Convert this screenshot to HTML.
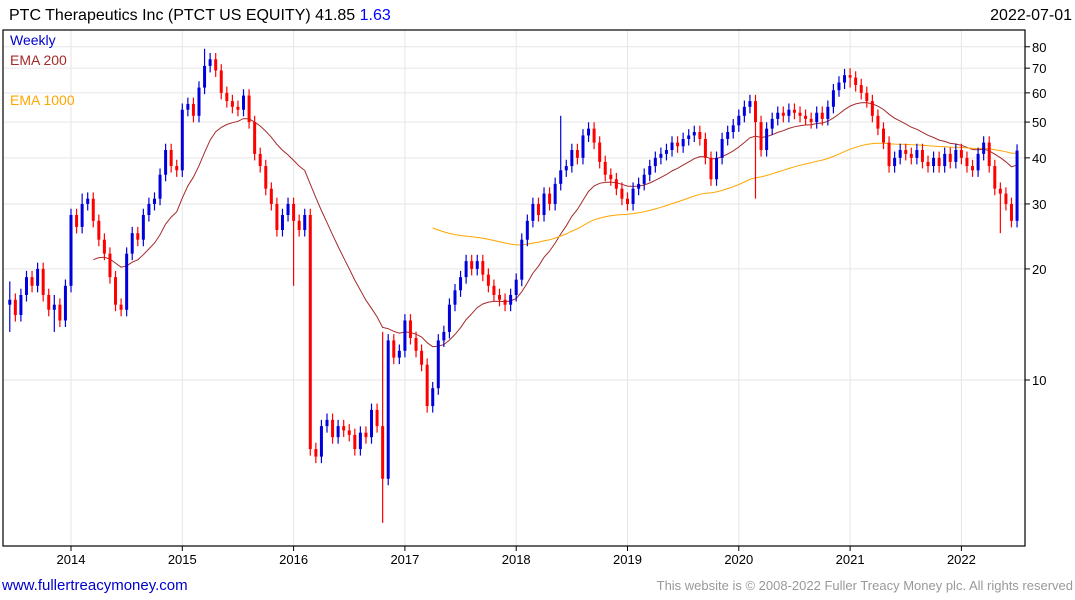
<!DOCTYPE html>
<html><head><meta charset="utf-8"><style>
body{margin:0;background:#fff;font-family:"Liberation Sans",sans-serif;}
svg{display:block}
</style></head><body>
<svg id="c" width="1075" height="600" font-family="Liberation Sans, sans-serif">
<text x="9" y="20" font-size="16" fill="#000">PTC Therapeutics Inc (PTCT US EQUITY) 41.85 <tspan fill="#0000ff">1.63</tspan></text>
<text x="1072" y="20" font-size="16" text-anchor="end" fill="#000">2022-07-01</text>
<g id="grid"></g>
<g id="ema"></g>
<g id="bars"></g>
<rect x="3" y="30" width="1022" height="516" fill="none" stroke="#000" stroke-width="1.2"/>
<text x="10" y="45" font-size="14" fill="#0000cc">Weekly</text>
<text x="10" y="65" font-size="14" fill="#a52a2a">EMA 200</text>
<text x="10" y="105" font-size="14" fill="#ffa500">EMA 1000</text>
<g id="axes"></g>
<text x="2" y="590" font-size="15" fill="#0000cc">www.fullertreacymoney.com</text>
<text x="1073" y="590" font-size="13" text-anchor="end" fill="#999">This website is © 2008-2022 Fuller Treacy Money plc. All rights reserved</text>
</svg>
<script>
const startYear = 2013.45;
const stepYears = 0.05;
const closes = [
16.5,15,17,19,18,20,17,15.5,16,14.5,18,
28,26,30,31,27,24,22,19,16,15.5,22,25,24,28,30,31,36,42,38,37,
54,56,52,62,71,74,69,60,57,55,54,59,50,41,38,33,30,25.5,28,30,
27,25.5,28,6.5,6.2,7.5,7.8,7,7.5,7.3,7.1,6.5,7.2,7.0,8.3,7.5,5.4,12.8,11.5,12,
14.5,13,12,11,8.5,9.5,12.8,13.5,16,17.5,19,21,20,21,19.3,18,17,16.5,16,17,
18.7,24,27,30,28,32,30,34,37,38,42,40,46,48,44,39,36,35,33,31,
30,33,34,36,38,40,41,42,44,43,45,46,47,45,40,35,40,45,47,49,
52,55,57,50,42,48,51,53,52,54,53,52,51,50,53,51,55,61,64,67,
66,63,60,57,52,48,44,38,40,42,41,40,42,39,38,40,38,41,39,42,
40,38,37,41,44,38,33,32,30,27,41.85
];
const opens0 = 16;
const spikeIdx = [0, 8, 13, 35, 51, 67, 99, 134, 151, 178];
const spikeHi = [18.5, 17, 32, 79, 29, 13.5, 52, 55, 70, 30];
const spikeLo = [13.5, 13.5, 29, 66, 18, 4.1, 35, 31, 62, 25];
const yTicks = [10,20,30,40,50,60,70,80];
const xYears = [2014,2015,2016,2017,2018,2019,2020,2021,2022];

const NS="http://www.w3.org/2000/svg";
const yOf = p => 380 - (Math.log10(p) - 1) * 369;
const xOf = t => 71 + (t - 2014) * 111.3;
function mk(tag, attrs, parent){const e=document.createElementNS(NS,tag);for(const k in attrs)e.setAttribute(k,attrs[k]);parent.appendChild(e);return e;}
const grid=document.getElementById('grid'), axes=document.getElementById('axes'), bars=document.getElementById('bars'), ema=document.getElementById('ema');

yTicks.forEach(v=>{
  const y=yOf(v);
  const l=mk('line',{x1:3,x2:1025,y1:y,y2:y,stroke:'#e6e6e6','stroke-width':1},grid);
  
  
  const tk=mk('line',{x1:1025,x2:1030,y1:y,y2:y,stroke:'#000'},axes);
  
  
  const t=mk('text',{x:1032,y:y+5,'font-size':13,fill:'#000'},axes);
  t.textContent=v;
  
  
});
xYears.forEach(yr=>{
  const x=xOf(yr);
  const l=mk('line',{x1:x,x2:x,y1:30,y2:546,stroke:'#e6e6e6'},grid);
  
  
  const tk=mk('line',{x1:x,x2:x,y1:546,y2:551,stroke:'#000'},axes);
  
  
  const t=mk('text',{x:x,y:564,'font-size':13,'text-anchor':'middle',fill:'#000'},axes);
  t.textContent=yr;
  
  
});

let prev=opens0;
closes.forEach((c,i)=>{
  const o=prev; prev=c;
  let hi=Math.max(o,c)*1.04, lo=Math.min(o,c)*0.96;
  const k=spikeIdx.indexOf(i);
  if(k>=0){hi=Math.max(hi,spikeHi[k]);lo=Math.min(lo,spikeLo[k]);}
  const x=xOf(startYear+i*stepYears);
  const col=c>=o?'#0000dd':'#ff0000';
  const w=mk('line',{x1:x,x2:x,y1:yOf(hi),y2:yOf(lo),stroke:col,'stroke-width':1.2},bars);
  
  
  const top=yOf(Math.max(o,c)), bot=yOf(Math.min(o,c));
  const r=mk('rect',{x:x-1.5,y:top,width:3,height:Math.max(1,bot-top),fill:col},bars);
  
  
});

function emaPath(alpha, startIdx, color, name){
  let seed=0; for(let i=0;i<=startIdx;i++) seed+=closes[i]; let e=seed/(startIdx+1);
  let d='';
  for(let i=startIdx;i<closes.length;i++){
    e=alpha*closes[i]+(1-alpha)*e;
    d+=(i===startIdx?'M':'L')+xOf(startYear+i*stepYears).toFixed(1)+','+yOf(e).toFixed(1);
  }
  const p=mk('path',{d:d,fill:'none',stroke:color,'stroke-width':1},ema);
  
  
}
emaPath(0.1, 15, '#a52a2a', 'ema-200-line');
emaPath(0.025, 76, '#ffa500', 'ema-1000-line');
</script>
</body></html>
